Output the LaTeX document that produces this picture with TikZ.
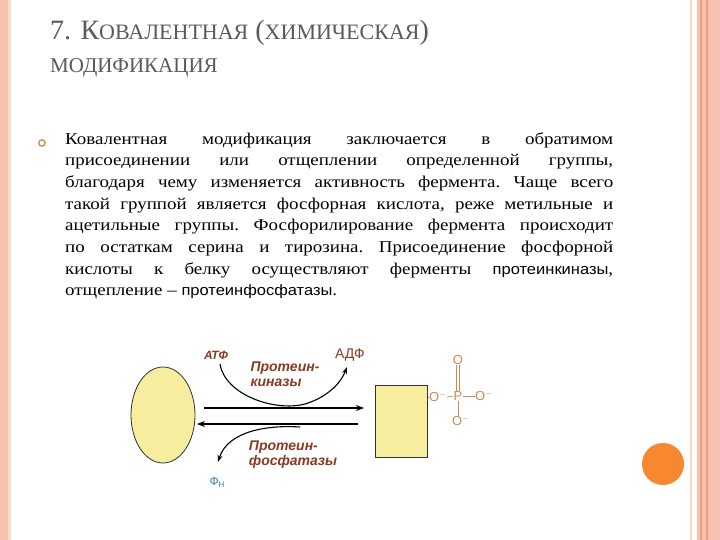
\documentclass[tikz,border=0pt]{standalone}
\usepackage{fontspec}
\setmainfont{Liberation Serif}
\newfontfamily\sansf{Liberation Sans}
\newfontfamily\bodyf[FakeStretch=1.15]{Liberation Serif}
\newfontfamily\bodys[FakeStretch=1.1]{Liberation Sans}
\usetikzlibrary{arrows.meta,shapes.geometric}
\definecolor{salmon}{HTML}{F7C2B0}
\definecolor{salmond}{HTML}{EE9A80}
\definecolor{titlec}{HTML}{595959}
\definecolor{yell}{HTML}{F6EE9E}
\definecolor{brn}{HTML}{8A3A22}
\definecolor{phc}{HTML}{C98A55}
\definecolor{teal}{HTML}{3C7F9A}
\definecolor{orng}{HTML}{F7882F}
\tikzset{lbl/.style={font=\sansf\bfseries\itshape\fontsize{14}{14}\selectfont,text=brn,align=left,inner sep=0},
  chem/.style={font=\sansf\fontsize{13}{13}\selectfont,text=phc,inner sep=0},
  main/.style={line width=1.6pt,-{Stealth[length=8pt,width=6pt]}},
  curv/.style={line width=1.1pt,-{Stealth[length=7pt,width=5pt]}}}
\begin{document}
\begin{tikzpicture}[x=1pt,y=-1pt]
\useasboundingbox (0,0) rectangle (720,540);
\fill[white] (0,0) rectangle (720,540);
% borders
\fill[salmon] (0,0) rectangle (8,540);
\fill[salmon!60] (8,0) rectangle (11,540);
\fill[salmon!70] (690,0) rectangle (692,540);
\fill[salmon] (697,0) rectangle (720,540);
\fill[salmond] (700,0) rectangle (701.5,540);
\fill[salmond] (706,0) rectangle (707.5,540);
\fill[orng] (663,464) circle (21);
% title
\node[anchor=base west,inner sep=0,text=titlec,font=\fontsize{28}{28}\selectfont] (t1) at (50,40)
 {7. К{\fontsize{22}{22}\selectfont ОВАЛЕНТНАЯ} ({\fontsize{22}{22}\selectfont ХИМИЧЕСКАЯ})};
\node[anchor=base west,inner sep=0,text=titlec,font=\fontsize{21}{21}\selectfont] (t2) at (50,73) {МОДИФИКАЦИЯ};
% bullet
\draw[phc,line width=1.3pt] (42,143) circle (3.2);
% text
\node[anchor=north west,inner sep=0,text width=548,align=justify,font=\bodyf\fontsize{16.5}{21.7}\selectfont\frenchspacing] (txt) at (65,132)
{Ковалентная модификация заключается в обратимом\linebreak присоединении или отщеплении определенной группы,\linebreak благодаря чему изменяется активность фермента. Чаще всего\linebreak такой группой является фосфорная кислота, реже метильные и\linebreak ацетильные группы. Фосфорилирование фермента происходит\linebreak по остаткам серина и тирозина. Присоединение фосфорной\linebreak кислоты к белку осуществляют ферменты {\bodys\fontsize{15}{21.7}\selectfont протеинкиназы},\linebreak отщепление – {\bodys\fontsize{15}{21.7}\selectfont протеинфосфатазы}.};
% diagram
\node[ellipse,draw=black!80,line width=0.8pt,fill=yell,minimum width=64,minimum height=96] (e) at (163,415) {};
\node[draw=black!80,line width=0.8pt,fill=yell,minimum width=52,minimum height=72,anchor=north west] (r) at (375,385) {};
\coordinate (a1) at (204,408); \coordinate (a2) at (364,408);
\coordinate (b1) at (358,424); \coordinate (b2) at (197,424);
\draw[main] (a1) -- (a2);
\draw[main] (b1) -- (b2);
\node[font=\sansf\bfseries\itshape\fontsize{12}{12}\selectfont,text=brn,inner sep=1] (atf) at (216,355) {АТФ};
\node[font=\sansf\fontsize{14}{14}\selectfont,text=brn,inner sep=1] (adf) at (350,355) {АДФ};
\draw[curv] (220,364) .. controls (225,395) and (275,412) .. (305,404) .. controls (325,398) and (340,385) .. (347,367);
\node[lbl] (k) at (285,374) {Протеин-\\[1pt]киназы};
\draw[curv] (300,427) .. controls (270,425) and (228,430) .. (218,462);
\node[lbl] (f) at (293,455) {Протеин-\\[1pt]фосфатазы};
\node[font=\sansf\fontsize{12}{12}\selectfont,text=teal,inner sep=0] (fn) at (217,482) {Ф\raisebox{-2pt}{\fontsize{8}{8}\selectfont Н}};
% phosphate
\node[chem] (p) at (458,396) {P};
\node[chem] (o1) at (438,397) {O$^{-}$};
\node[chem] (o2) at (484,396) {O$^{-}$};
\node[chem] (o3) at (458,360) {O};
\node[chem] (o4) at (461,421) {O$^{-}$};
\draw[phc,line width=0.8pt] (r.east |- o1) -- (o1.west);
\draw[phc,line width=0.7pt] (o1.east) -- (p.west);
\draw[phc,line width=0.7pt] (p.east) -- (o2.west);
\draw[phc,line width=0.7pt] ([xshift=-1.5]o3.south) -- ([xshift=-1.5]p.north);
\draw[phc,line width=0.7pt] ([xshift=1.5]o3.south) -- ([xshift=1.5]p.north);
\draw[phc,line width=0.7pt] (p.south) -- (p.south |- o4.north);
\end{tikzpicture}
\end{document}
